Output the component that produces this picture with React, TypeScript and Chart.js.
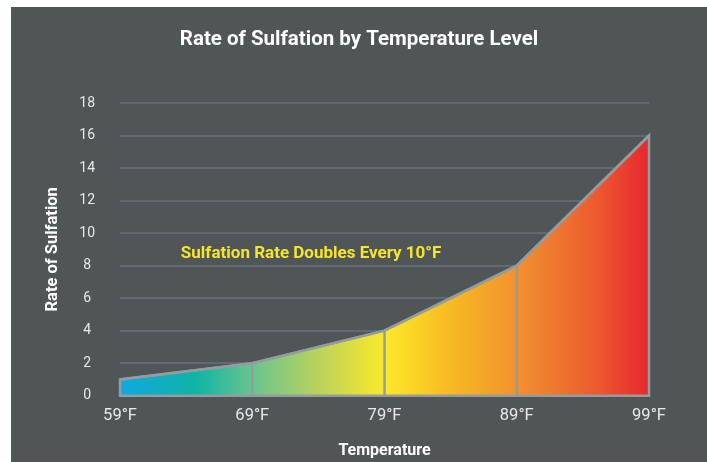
import React, { useEffect, useRef } from "react";
import { Chart, registerables } from "chart.js";

Chart.register(...registerables);

const categories = ["59°F", "69°F", "79°F", "89°F", "99°F"];
const sulfationRate = [1, 2, 4, 8, 16];
const yTickMax = 18;
const yTickStep = 2;
const titleText = "Rate of Sulfation by Temperature Level";
const xTitle = "Temperature";
const yTitle = "Rate of Sulfation";
const annotationText = "Sulfation Rate Doubles Every 10°F";
const annotationAt = { x: 0.46, y: 8.75 };

const gradientStops: [number, string][] = [
  [0, "#10a8e0"],
  [0.14, "#0eb4a6"],
  [0.25, "#69c48e"],
  [0.38, "#bdd35a"],
  [0.47, "#ece334"],
  [0.5, "#fbe92a"],
  [0.62, "#f8bb22"],
  [0.75, "#f1922f"],
  [0.9, "#ec5a2f"],
  [1, "#e8272d"],
];

const BG = "#505658";
const OUTLINE = "#959ca0";

const outlinePlugin = {
  id: "outlinePlugin",
  afterDatasetsDraw(chart: any) {
    const meta = chart.getDatasetMeta(0);
    const yScale = chart.scales.y;
    const base = yScale.getPixelForValue(0);
    const pts = meta.data;
    if (!pts.length) return;
    const ctx = chart.ctx;
    ctx.save();
    ctx.strokeStyle = OUTLINE;
    ctx.lineWidth = 2.5;
    ctx.lineJoin = "miter";
    ctx.beginPath();
    ctx.moveTo(pts[0].x, base);
    pts.forEach((p: any) => ctx.lineTo(p.x, p.y));
    ctx.lineTo(pts[pts.length - 1].x, base);
    ctx.closePath();
    ctx.stroke();
    ctx.beginPath();
    for (let i = 1; i < pts.length - 1; i++) {
      ctx.moveTo(pts[i].x, pts[i].y);
      ctx.lineTo(pts[i].x, base);
    }
    ctx.stroke();
    ctx.restore();
  },
  afterDraw(chart: any) {
    const ctx = chart.ctx;
    const x = chart.scales.x.getPixelForValue(annotationAt.x);
    const y = chart.scales.y.getPixelForValue(annotationAt.y);
    ctx.save();
    ctx.font = "bold 17px Roboto";
    ctx.fillStyle = "#f5e52b";
    ctx.textAlign = "left";
    ctx.textBaseline = "middle";
    ctx.fillText(annotationText, x, y);
    // chart title, centred on the full canvas width
    ctx.font = "bold 20.5px Roboto";
    ctx.fillStyle = "#ffffff";
    ctx.textAlign = "center";
    ctx.fillText(titleText, chart.width / 2, 33);
    ctx.restore();
  },
};

export default function App() {
  const ref = useRef<HTMLCanvasElement>(null);
  useEffect(() => {
    if (!ref.current) return;
    const chart = new Chart(ref.current, {
      type: "line",
      data: {
        labels: categories,
        datasets: [
          {
            data: sulfationRate,
            fill: "origin",
            borderColor: OUTLINE,
            borderWidth: 2.5,
            pointRadius: 0,
            tension: 0,
            backgroundColor: (c: any) => {
              const area = c.chart.chartArea;
              if (!area) return "#f1922f";
              const g = c.chart.ctx.createLinearGradient(area.left, 0, area.right, 0);
              gradientStops.forEach(([o, col]) => g.addColorStop(o, col));
              return g;
            },
          },
        ],
      },
      options: {
        animation: false,
        responsive: false,
        layout: { padding: { left: 26, right: 58, top: 96, bottom: 0 } },
        plugins: {
          legend: { display: false },
          tooltip: { enabled: false },
          title: { display: false },
        },
        scales: {
          x: {
            offset: false,
            grid: { display: false, drawTicks: false },
            border: { display: false },
            ticks: {
              color: "#e8e8e8",
              font: { family: "Roboto", size: 16.5 },
              padding: 10.4,
              maxRotation: 0,
            },
            title: {
              display: true,
              text: xTitle,
              color: "#ffffff",
              font: { family: "Roboto", size: 16, weight: "bold" },
              padding: { top: 5.1, bottom: 1.4 },
            },
          },
          y: {
            min: 0,
            max: yTickMax,
            grid: { color: "#636a6d", lineWidth: 2, drawTicks: false },
            border: { display: false },
            ticks: {
              stepSize: yTickStep,
              color: "#e8e8e8",
              font: { family: "Roboto", size: 14 },
              padding: 25,
              crossAlign: "center",
            },
            title: {
              display: true,
              text: yTitle,
              color: "#ffffff",
              font: { family: "Roboto", size: 16.5, weight: "bold" },
              padding: { top: 6, bottom: -8.5 },
            },
          },
        },
      },
      plugins: [outlinePlugin],
    });
    return () => chart.destroy();
  }, []);
  return (
    <div
      style={{
        position: "absolute",
        left: 11,
        top: 7,
        width: 696,
        height: 455,
        background: BG,
      }}
    >
      <canvas ref={ref} width={696} height={455} style={{ display: "block" }} />
    </div>
  );
}
